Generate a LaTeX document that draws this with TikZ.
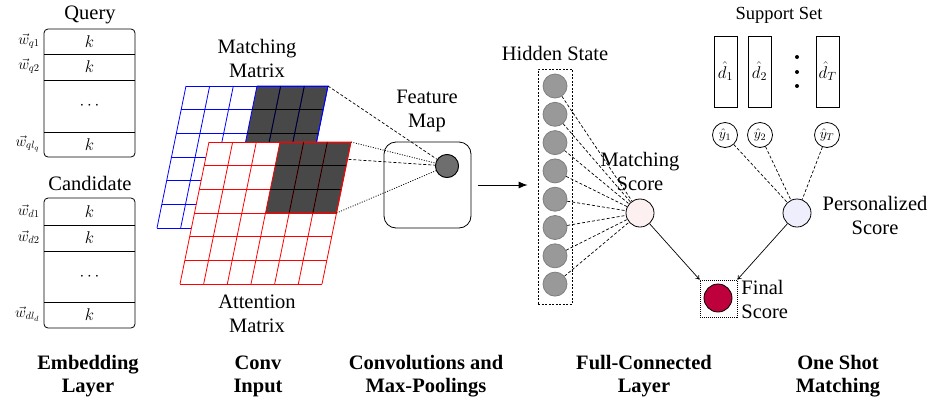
\documentclass[tikz,border=0pt]{standalone}
\usepackage{fix-cm}
\usepackage[no-math]{fontspec}
\setmainfont{Liberation Serif}
\newfontfamily\tnr{Liberation Serif}
\usetikzlibrary{arrows.meta}
\definecolor{darkcell}{HTML}{484848}
\definecolor{hidfill}{HTML}{999999}
\definecolor{hidedge}{HTML}{7F7F7F}
\definecolor{fmfill}{HTML}{6E6E6E}
\definecolor{msfill}{HTML}{FDF0F0}
\definecolor{psfill}{HTML}{EEEEFC}
\definecolor{finfill}{RGB}{190,0,60}
\begin{document}
\begin{tikzpicture}[x=1pt,y=-1pt,line width=0.8pt,
  lbl/.style={font=\tnr\fontsize{20.5}{24}\selectfont, align=center, inner sep=0pt},
  blbl/.style={font=\tnr\fontsize{20.5}{23}\selectfont\bfseries, align=center, inner sep=0pt},
  wlbl/.style={font=\fontsize{15}{16}\selectfont, anchor=east, inner sep=0pt},
  klbl/.style={font=\fontsize{17}{18}\selectfont, inner sep=0pt},
  embbox/.style={draw, rounded corners=4pt, minimum width=91pt, minimum height=128pt, inner sep=0pt},
  hid/.style={circle, draw=hidedge, fill=hidfill, minimum size=24pt, inner sep=0pt},
  score/.style={circle, draw, minimum size=28pt, inner sep=0pt},
  ycirc/.style={circle, draw, minimum size=25pt, inner sep=0pt, font=\fontsize{14}{15}\selectfont},
  drect/.style={draw, minimum width=23pt, minimum height=71pt, inner sep=0pt, font=\fontsize{17}{18}\selectfont},
  bdash/.style={dash pattern=on 3pt off 2pt, line width=0.7pt},
  rdot/.style={dash pattern=on 1pt off 1.5pt, line width=0.8pt},
  hdash/.style={dash pattern=on 3pt off 2pt, line width=0.7pt},
  arr/.style={-{Latex[length=9pt,width=7pt]}, line width=1pt},
  sarr/.style={-{To[length=4pt,width=5pt]}, line width=0.7pt},
]
\useasboundingbox (0,0) rectangle (928,405);

% ---------------- Embedding layer ----------------
\node[lbl] (qlab) at (90,15) {Query};
\node[embbox] (qbox) at (89.5,93) {};
\draw (44,54) -- (135,54);
\draw (44,80) -- (135,80);
\draw (44,132) -- (135,132);
\node[klbl] (qk1) at (89.5,41.5) {$k$};
\node[klbl] (qk2) at (89.5,67) {$k$};
\node[klbl] (qk3) at (89.5,106) {$\cdots$};
\node[klbl] (qk4) at (89.5,144.5) {$k$};
\node[wlbl] (qw1) at (40,41) {$\vec{w}_{q1}$};
\node[wlbl] (qw2) at (40,66) {$\vec{w}_{q2}$};
\node[wlbl] (qw3) at (40,144) {$\vec{w}_{ql_q}$};

\node[lbl] (clab) at (90,183) {Candidate};
\node[embbox, minimum height=130pt] (cbox) at (89.5,263) {};
\draw (44,225) -- (135,225);
\draw (44,251) -- (135,251);
\draw (44,302) -- (135,302);
\node[klbl] (ck1) at (89.5,211.5) {$k$};
\node[klbl] (ck2) at (89.5,238) {$k$};
\node[klbl] (ck3) at (89.5,276.5) {$\cdots$};
\node[klbl] (ck4) at (89.5,315) {$k$};
\node[wlbl] (cw1) at (40,211) {$\vec{w}_{d1}$};
\node[wlbl] (cw2) at (40,237) {$\vec{w}_{d2}$};
\node[wlbl] (cw3) at (40,314) {$\vec{w}_{dl_d}$};

% ---------------- Conv input ----------------
\node[lbl] (mmlab) at (257,58) {Matching\\Matrix};
\node[lbl] (amlab) at (257,314) {Attention\\Matrix};

% feature map
\node[lbl] (fmlab) at (427,111) {Feature\\Map};
\node[draw, rounded corners=12pt, minimum width=87pt, minimum height=86pt, inner sep=0pt] (fmbox) at (427.5,185) {};
\node[circle, draw, fill=fmfill, minimum size=23pt, inner sep=0pt] (fm) at (447,166) {};

% blue matrix
\begin{scope}[shift={(186,86)}, xslant=0.2042]
  \fill[white] (0,0) rectangle (142,142);
  \fill[darkcell] (71,0) rectangle (142,71);
  \foreach \i in {0,...,6} {
    \draw[blue] (\i*23.667,0) -- (\i*23.667,142);
    \draw[blue] (0,\i*23.667) -- (142,\i*23.667);
  }
  \foreach \i in {4,5} {
    \draw[black] (\i*23.667,0) -- (\i*23.667,71);
  }
  \foreach \i in {1,2,3} {
    \draw[black] (71,\i*23.667) -- (142,\i*23.667);
  }
  \draw[blue] (71,0) -- (142,0) -- (142,71);
  \coordinate (bTR) at (142,0);
  \coordinate (bBR) at (142,71);
\end{scope}
\draw[bdash] (bTR) -- (fm);
\draw[bdash] (bBR) -- (fm);

% red matrix
\begin{scope}[shift={(209,142)}, xslant=0.2042]
  \fill[white] (0,0) rectangle (142,142);
  \fill[darkcell] (71,0) rectangle (142,71);
  \foreach \i in {0,...,6} {
    \draw[red] (\i*23.667,0) -- (\i*23.667,142);
    \draw[red] (0,\i*23.667) -- (142,\i*23.667);
  }
  \foreach \i in {4,5} {
    \draw[black] (\i*23.667,0) -- (\i*23.667,71);
  }
  \foreach \i in {1,2} {
    \draw[black] (71,\i*23.667) -- (142,\i*23.667);
  }
  \draw[red] (71,0) -- (142,0) -- (142,71) -- (71,71);
  \coordinate (rTR) at (142,0);
  \coordinate (rBR) at (142,71);
\end{scope}
\draw[rdot] (rTR) -- (fm);
\draw[rdot] (rBR) -- (fm);
\node[circle, draw, fill=fmfill, minimum size=23pt, inner sep=0pt] at (fm) {};

% arrow to hidden state
\node[draw, dash pattern=on 2pt off 1.5pt, minimum width=34pt, minimum height=235pt, inner sep=0pt, line width=0.7pt] (hbox) at (555,186.5) {};
\draw[arr, shorten <=7pt, shorten >=10pt] (fmbox.east) -- (fmbox.east -| hbox.west);

% ---------------- Full-connected ----------------
\node[lbl] (hslab) at (555,53) {Hidden State};
\foreach \i in {0,...,7} {
  \node[hid] (h\i) at (555,86+28.3*\i) {};
}
\node[score, fill=msfill] (ms) at (640,213) {};
\node[lbl] (mslab) at (640,171) {Matching\\Score};
\foreach \i in {0,...,7} {
  \draw[hdash] (h\i) -- (ms);
}

% ---------------- One shot ----------------
\node[lbl, font=\tnr\fontsize{18.5}{22}\selectfont] (sslab) at (779,15) {Support Set};
\node[drect] (d1) at (725.5,71.5) {$\hat{d}_1$};
\node[drect] (d2) at (759.5,71.5) {$\hat{d}_2$};
\node[drect] (dT) at (827.5,71.5) {$\hat{d}_T$};
\fill (797,57) circle (2pt);
\fill (797,72) circle (2pt);
\fill (797,86) circle (2pt);
\node[ycirc] (y1) at (725,135) {$\hat{y}_1$};
\node[ycirc] (y2) at (760,135) {$\hat{y}_2$};
\node[ycirc] (yT) at (827,135) {$\hat{y}_T$};
\node[score, fill=psfill] (ps) at (797,213) {};
\node[lbl] (pslab) at (875,215) {Personalized\\Score};
\draw[hdash] (y1) -- (ps);
\draw[hdash] (y2) -- (ps);
\draw[hdash] (yT) -- (ps);

\node[draw, dash pattern=on 1pt off 1pt, line width=0.7pt, minimum size=37pt, inner sep=0pt] (fbox) at (718.5,298.5) {};
\node[score, fill=finfill] (fin) at (718,298) {};
\node[lbl, anchor=west, align=left] (finlab) at (741,299) {Final\\Score};
\draw[sarr] (ms) -- (fbox.north west);
\draw[sarr] (ps) -- (fbox.north east);

% ---------------- bottom labels ----------------
\node[blbl] (b1) at (88,376) {Embedding\\Layer};
\node[blbl] (b2) at (258,376) {Conv\\Input};
\node[blbl] (b3) at (426,376) {Convolutions and\\Max-Poolings};
\node[blbl] (b4) at (644,376) {Full-Connected\\Layer};
\node[blbl] (b5) at (838,376) {One Shot\\Matching};
\end{tikzpicture}
\end{document}
